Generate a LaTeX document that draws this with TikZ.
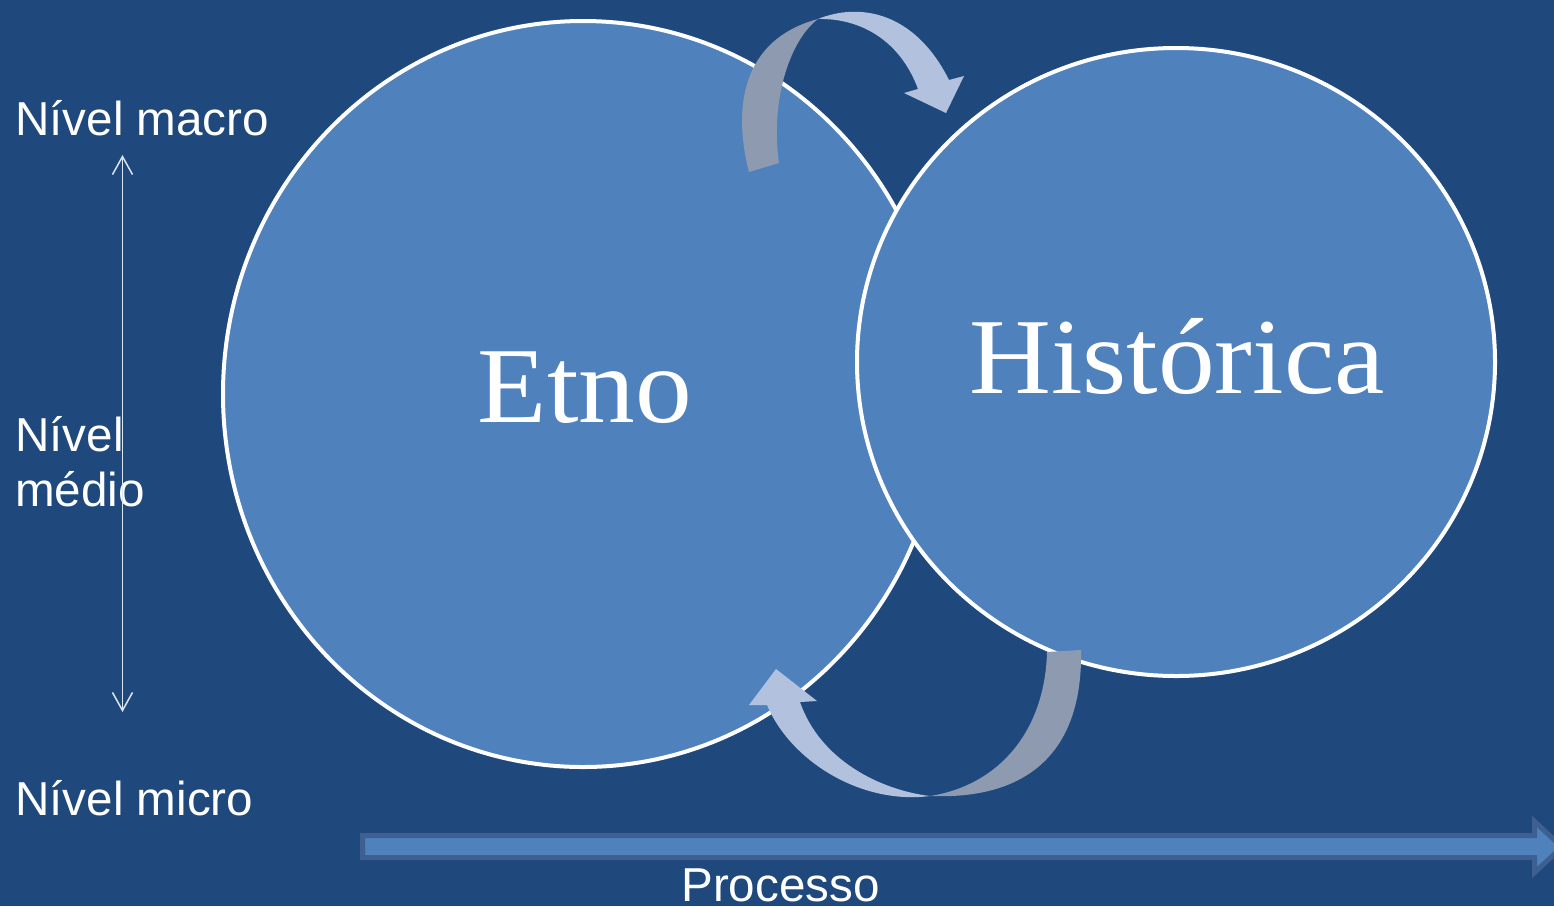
\documentclass[tikz,border=0pt]{standalone}
\usepackage{fontspec}
\setmainfont{Liberation Sans}
\newfontfamily\serifface{Liberation Serif}
\usetikzlibrary{arrows.meta}
\definecolor{bgblue}{HTML}{1F497D}
\definecolor{circblue}{HTML}{4F81BD}
\definecolor{lightarrow}{HTML}{B2C2DE}
\definecolor{darkarrow}{HTML}{8E9AB0}
\definecolor{barborder}{HTML}{3E6090}
\definecolor{vline}{HTML}{DCE6F2}
\tikzset{
  circ/.style={fill=circblue, draw=white, line width=4pt},
  lbl/.style={text=white, inner sep=0pt, font=\fontsize{47.6}{55}\selectfont},
  big/.style={text=white, inner sep=0pt, xscale=1.05, font=\serifface\fontsize{108}{120}\selectfont},
  levelarrow/.style={draw=vline, line width=1.5pt, {Straight Barb[length=18pt,width=20pt]}-{Straight Barb[length=18pt,width=20pt]}},
  procbar/.style={fill=circblue, draw=barborder, line width=5pt},
}
\begin{document}
\begin{tikzpicture}[x=1pt,y=-1pt]
\fill[bgblue] (0,0) rectangle (1554,906);
\useasboundingbox (0,0) rectangle (1554,906);
\clip (0,0) rectangle (1554,906);
% circles
\draw[circ] (583,394) ellipse [x radius=360, y radius=373];
\draw[circ] (1176,362) ellipse [x radius=319, y radius=314];
\node[big, anchor=base] (etno) at (585,422) {Etno};
\node[big, anchor=base] (hist) at (1177,393) {Histórica};
% upper curved arrow
\fill[darkarrow] (749,172) .. controls (733,110) and (740,40) .. (818,19)
  .. controls (790,40) and (770,100) .. (779,163) -- cycle;
\fill[lightarrow] (818,19) .. controls (860,2) and (915,12) .. (949,80)
  -- (964,76) -- (946,113) -- (904,93) -- (918,89)
  .. controls (900,40) and (860,18) .. (818,19) -- cycle;
% lower curved arrow
\fill[darkarrow] (1081,650) .. controls (1083,750) and (1030,800) .. (930,796)
  .. controls (1000,785) and (1045,730) .. (1047,652) -- cycle;
\fill[lightarrow] (930,796) .. controls (860,805) and (790,760) .. (767,705)
  -- (749,705) -- (776,669) -- (817,701) -- (800,702)
  .. controls (820,760) and (880,790) .. (930,796) -- cycle;
% level labels
\node[lbl, anchor=base west] (macro) at (15,135) {Nível macro};
\node[lbl, anchor=base west] (medioA) at (15,451) {Nível};
\node[lbl, anchor=base west] (medioB) at (15,506) {médio};
\node[lbl, anchor=base west] (micro) at (15,815) {Nível micro};
\coordinate (vtop) at (122.5,155);
\coordinate (vbot) at (122.5,712);
\draw[levelarrow] (vbot) -- (vtop);
% process arrow
\draw[procbar] (362.5,835.5) -- (1534.5,835.5) -- (1534.5,821.5) -- (1562,847)
  -- (1534.5,872.5) -- (1534.5,857.5) -- (362.5,857.5) -- cycle;
\node[lbl, anchor=base] (proc) at (780.5,901.5) {Processo};
\end{tikzpicture}
\end{document}
